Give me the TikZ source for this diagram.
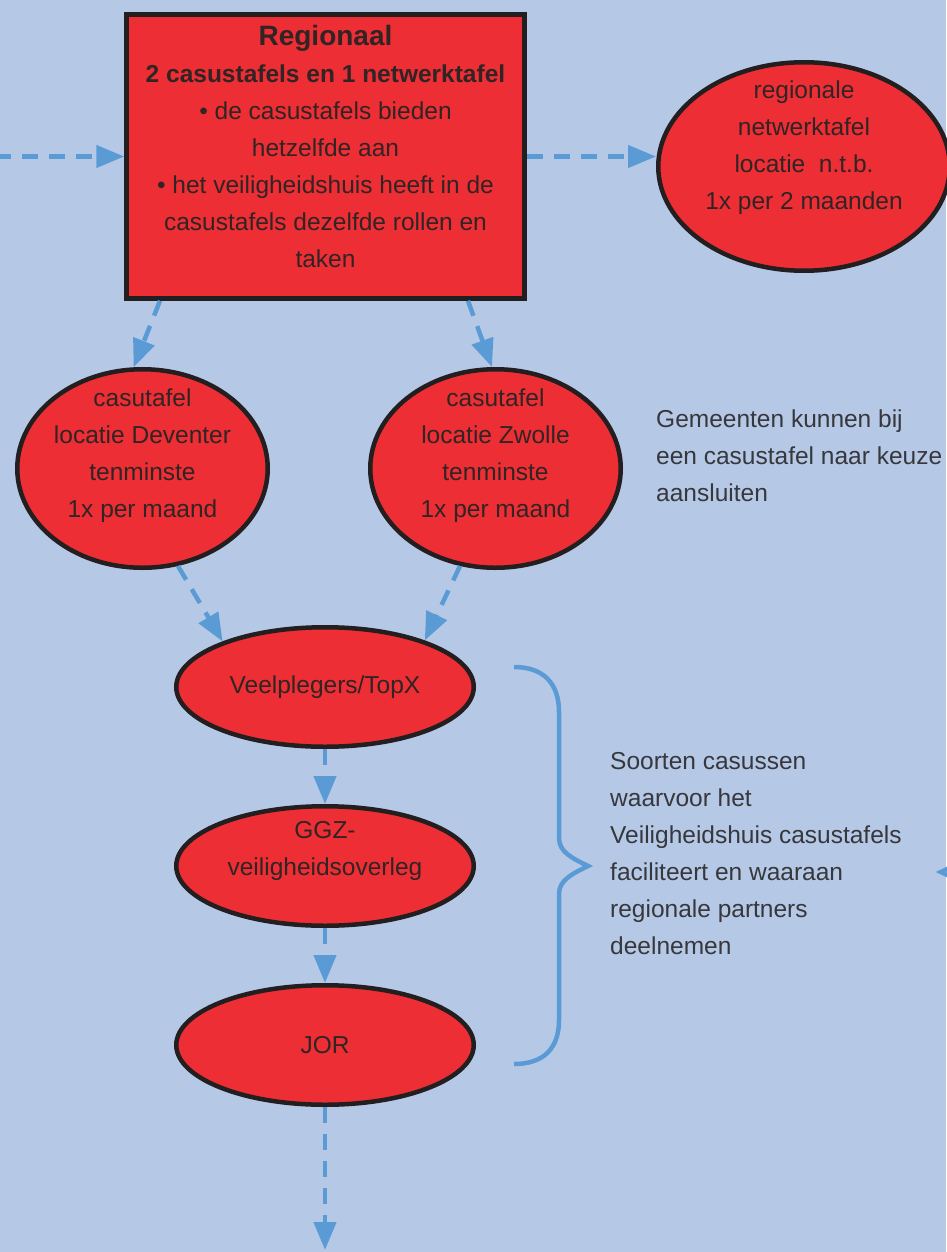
\documentclass[tikz,border=0pt]{standalone}
\usepackage{fontspec}
\setmainfont{Liberation Sans}
\usetikzlibrary{positioning, shapes.geometric, arrows.meta}

\definecolor{sheet}{RGB}{181,201,231}
\definecolor{boxred}{RGB}{237,46,53}
\definecolor{rim}{RGB}{35,30,31}
\definecolor{flowblue}{RGB}{91,155,213}
\definecolor{ink}{RGB}{48,36,36}
\definecolor{notegray}{RGB}{55,55,60}

\begin{document}
\begin{tikzpicture}[
      x=1pt, y=-1pt,
      font=\fontsize{24.5}{37}\selectfont,
      node distance=55pt,
      every node/.style={align=center, text=ink},
      box/.style={rectangle, draw=rim, line width=4.5pt, fill=boxred},
      oval/.style={ellipse, draw=rim, line width=4.5pt, fill=boxred, inner sep=0pt},
      tafel/.style={oval, minimum width=250.5pt, minimum height=198.5pt},
      soort/.style={oval, minimum width=297.5pt, minimum height=119.5pt},
      remark/.style={anchor=west, align=left, text=notegray, inner sep=0pt},
      arrow/.style={-{Triangle[length=28pt, width=22pt]}, flowblue, line width=4.5pt, dash pattern=on 16pt off 11pt},
      brace/.style={flowblue, line width=4.5pt}
  ]
  \path[fill=sheet, use as bounding box] (0,0) rectangle (946,1252);

  % Nodes ------------------------------------------------
  \node[box, minimum width=398pt, minimum height=284pt,
        label={[name=regtxt, yshift=10pt]center:{{\fontsize{28}{37}\selectfont\bfseries Regionaal}\\
          \textbf{2 casustafels en 1 netwerktafel}\\ • de casustafels bieden\\ hetzelfde aan\\
          • het veiligheidshuis heeft in de\\ casustafels dezelfde rollen en\\ taken}}] (reg) at (325.5,156.5) {};
  \node[oval, minimum width=291.5pt, minimum height=208.5pt,
        label={[name=rnettxt, yshift=19pt]center:{regionale\\ netwerktafel\\ locatie~~n.t.b.\\ 1x per 2 maanden}}] (rnet) at (804,166.5) {};
  \node[tafel, label={[name=cdevtxt, yshift=13pt]center:{casutafel\\ locatie Deventer\\ tenminste\\ 1x per maand}}] (cdev) at (142.5,468.5) {};
  \node[tafel, right=98pt of cdev,
        label={[name=czwtxt, yshift=13pt]center:{casutafel\\ locatie Zwolle\\ tenminste\\ 1x per maand}}] (czw) {};
  \node[soort] (veel) at (325,687) {Veelplegers/TopX};
  \node[soort, below=of veel, label={[name=ggztxt, yshift=15pt]center:{GGZ-\\ veiligheidsoverleg}}] (ggz) {};
  \node[soort, below=of ggz] (jor) {JOR};

  \node[remark] (gemtxt) at (656,456) {Gemeenten kunnen bij\\ een casustafel naar keuze\\ aansluiten};
  \node[remark] (soorttxt) at (610,853.5) {Soorten casussen\\ waarvoor het\\ Veiligheidshuis casustafels\\ faciliteert en waaraan\\ regionale partners\\ deelnemen};

  % Arrows ------------------------------------------------
  \coordinate (feed) at (-5,156.5);
  \coordinate (onward) at (325,1250);
  \draw[arrow] (feed) -- (reg.west);
  \draw[arrow] (reg.east) -- (reg.east -| rnet.west);
  \draw[arrow] ([xshift=-165.5pt]reg.south) -- (cdev.95);
  \draw[arrow] ([xshift=142.5pt]reg.south) -- (czw.92);
  \draw[arrow] (cdev.290) -- (veel.156);
  \draw[arrow] (czw.250) -- (veel.25);
  \draw[arrow] (veel) -- (ggz);
  \draw[arrow] (ggz) -- (jor);
  \draw[arrow] (jor) -- (onward);

  % Braces ------------------------------------------------
  \draw[brace] (514,667) .. controls (543,667) and (559,683) .. (559,712)
     -- (559,838) .. controls (559,852) and (572,858) .. (588,866)
     .. controls (572,874) and (559,880) .. (559,894)
     -- (559,1020) .. controls (559,1049) and (543,1064) .. (514,1064);
  \draw[brace] (975,700) -- (975,844) .. controls (975,858) and (957,864) .. (941,872)
     .. controls (957,880) and (975,886) .. (975,900) -- (975,1040);
\end{tikzpicture}
\end{document}
